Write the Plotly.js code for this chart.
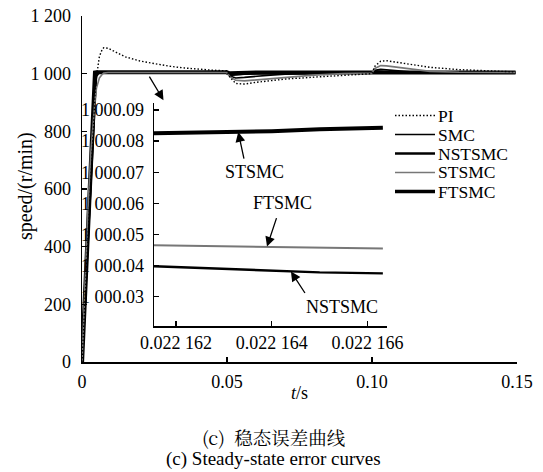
<!DOCTYPE html>
<html><head><meta charset="utf-8">
<script src="https://cdn.plot.ly/plotly-3.0.1.min.js"></script>
<style>html,body{margin:0;padding:0;background:#fff}</style>
</head><body><div id="chart" style="width:543px;height:472px"></div>
<script>
// ---- main plot data ----
const mainT = [0, 0.001, 0.002, 0.003, 0.004, 0.0045, 0.005, 0.006, 0.007, 0.0075, 0.009, 0.012, 0.015, 0.02, 0.025, 0.03, 0.035, 0.04, 0.045, 0.0499, 0.051, 0.053, 0.056, 0.06, 0.065, 0.07, 0.08, 0.09, 0.0999, 0.101, 0.103, 0.105, 0.11, 0.115, 0.12, 0.13, 0.14, 0.1495];
const piSpeed     = [0, 210, 430, 650, 850, 930, 990, 1060, 1085, 1090, 1088, 1072, 1058, 1044, 1034, 1026, 1020, 1015, 1012, 1010, 988, 966, 964, 970, 976, 981, 988, 995, 1000, 1026, 1043, 1045, 1037, 1029, 1022, 1014, 1009, 1006];
const smcSpeed    = [0, 205, 410, 615, 820, 920, 990, 1004, 1004, 1004, 1004, 1004, 1004, 1004, 1004, 1004, 1004, 1004, 1004, 1004, 992, 985, 987, 991, 995, 998, 1001, 1002, 1002, 1012, 1015, 1013, 1008, 1005, 1004, 1004, 1004, 1004];
const nstsmcSpeed = [0, 215, 430, 645, 860, 965, 1003, 1003, 1003, 1003, 1003, 1003, 1003, 1003, 1003, 1003, 1003, 1003, 1003, 1003, 996, 998, 1000, 1001, 1002, 1002, 1003, 1003, 1003, 1008, 1006, 1005, 1004, 1003, 1003, 1003, 1003, 1003];
const stsmcSpeed  = [0, 280, 520, 720, 860, 910, 950, 985, 998, 1002, 1004, 1004, 1004, 1004, 1004, 1004, 1004, 1004, 1004, 1004, 990, 977, 975, 978, 983, 988, 995, 1000, 1002, 1018, 1028, 1027, 1020, 1013, 1008, 1005, 1004, 1004];
const ftsmcSpeed  = [0, 225, 450, 675, 900, 1004, 1005, 1005, 1005, 1005, 1005, 1005, 1005, 1005, 1005, 1005, 1005, 1005, 1005, 1005, 1001, 1002, 1003, 1004, 1004, 1004, 1004, 1004, 1004, 1006, 1005, 1005, 1004, 1004, 1004, 1004, 1004, 1004];

// ---- inset (zoomed) data ----
const insetT      = [0.02216154, 0.022163, 0.022164, 0.022165, 0.02216632];
const insetUpper  = [1000.0825, 1000.0828, 1000.0832, 1000.0838, 1000.0843];
const insetMiddle = [1000.0465, 1000.0462, 1000.0460, 1000.0457, 1000.0455];
const insetLower  = [1000.0398, 1000.0390, 1000.0383, 1000.0378, 1000.0375];

// ---- labels ----
const seriesNames = ['PI', 'SMC', 'NSTSMC', 'STSMC', 'FTSMC'];
const yTickVals = [0, 200, 400, 600, 800, 1000, 1200];
const yTickText = ['0', '200', '400', '600', '800', '1 000', '1 200'];
const xTickVals = [0, 0.05, 0.10, 0.15];
const xTickText = ['0', '0.05', '0.10', '0.15'];
const insetXTickVals = [0.022162, 0.022164, 0.022166];
const insetXTickText = ['0.022 162', '0.022 164', '0.022 166'];
const insetYTickVals = [1000.03, 1000.04, 1000.05, 1000.06, 1000.07, 1000.08, 1000.09];
const insetYTickText = ['1 000.03', '1 000.04', '1 000.05', '1 000.06', '1 000.07', '1 000.08', '1 000.09'];

const FONT = "'Liberation Serif', 'Times New Roman', serif";
const styles = {
  PI:     {color: '#000', width: 1.4, dash: '1.5px,2px'},
  SMC:    {color: '#000', width: 1.6, dash: 'solid'},
  NSTSMC: {color: '#000', width: 2.6, dash: 'solid'},
  STSMC:  {color: '#777', width: 1.6, dash: 'solid'},
  FTSMC:  {color: '#000', width: 4.2, dash: 'solid'}
};
const seriesData = {PI: piSpeed, SMC: smcSpeed, NSTSMC: nstsmcSpeed, STSMC: stsmcSpeed, FTSMC: ftsmcSpeed};
const drawOrder = ['FTSMC', 'NSTSMC', 'SMC', 'STSMC', 'PI'];

const traces = drawOrder.map(n => ({
  x: mainT, y: seriesData[n], type: 'scatter', mode: 'lines', name: n,
  line: {color: styles[n].color, width: styles[n].width, dash: styles[n].dash},
  xaxis: 'x', yaxis: 'y', showlegend: false, hoverinfo: 'skip'
}));
traces.push({x: insetT, y: insetUpper, type: 'scatter', mode: 'lines', xaxis: 'x2', yaxis: 'y2', showlegend: false, line: {color: '#000', width: 4}});
traces.push({x: insetT, y: insetMiddle, type: 'scatter', mode: 'lines', xaxis: 'x2', yaxis: 'y2', showlegend: false, line: {color: '#777', width: 2}});
traces.push({x: insetT, y: insetLower, type: 'scatter', mode: 'lines', xaxis: 'x2', yaxis: 'y2', showlegend: false, line: {color: '#000', width: 2.4}});

// pixel helpers for paper placement (plot area: l=82, t=16, w=435, h=346)
const L = 82, T = 16, W = 435, H = 346;
const px = x => (x - L) / W;
const py = y => (T + H - y) / H;

const shapes = [];
const annotations = [];
// legend drawn as keys + labels
const legRows = [115.5, 134.5, 153.5, 172.5, 191.5];
seriesNames.forEach((n, i) => {
  shapes.push({type: 'line', xref: 'paper', yref: 'paper', x0: px(395), x1: px(435), y0: py(legRows[i]), y1: py(legRows[i]),
    line: {color: styles[n].color, width: Math.min(styles[n].width, 3.5), dash: styles[n].dash}});
  annotations.push({xref: 'paper', yref: 'paper', x: px(435.5), y: py(legRows[i]), xanchor: 'left', yanchor: 'middle',
    text: n, showarrow: false, font: {family: FONT, size: 17.5, color: '#000'}});
});

const txt = (x, y, t, size, extra) => Object.assign({xref: 'paper', yref: 'paper', x: px(x), y: py(y), text: t, showarrow: false,
  xanchor: 'center', yanchor: 'middle', font: {family: FONT, size: size, color: '#000'}}, extra || {});
annotations.push(txt(25, 186, 'speed/(r/min)', 20, {textangle: -90}));
annotations.push(txt(299, 393, '<i>t</i>/s', 18));
annotations.push(txt(274, 437, '(c)  稳态误差曲线', 18.5, {font: {family: "'Noto Serif CJK SC', 'Noto Sans CJK SC', " + FONT, size: 18.5, color: '#000'}}));
annotations.push(txt(273, 459, '(c) Steady-state error curves', 19));
// inset labels
annotations.push(txt(254, 172, 'STSMC', 18));
annotations.push(txt(282, 203, 'FTSMC', 18));
annotations.push(txt(342, 307, 'NSTSMC', 18));
// arrows (tip in inset/main data coordinates, tail offset in pixels)
const arrow = (xr, yr, x, y, ax, ay) => ({xref: xr, yref: yr, x: x, y: y, ax: ax, ay: ay, text: '', showarrow: true,
  arrowhead: 2, arrowsize: 1.5, arrowwidth: 1.3, arrowcolor: '#000'});
annotations.push(arrow('x2', 'y2', 0.0221633, 1000.0829, 6, 28));
annotations.push(arrow('x2', 'y2', 0.0221639, 1000.0461, 10, -30));
annotations.push(arrow('x2', 'y2', 0.0221644, 1000.0381, 15, 23));
annotations.push(arrow('x', 'y', 0.0281, 908, -15, -25));

const axisCommon = {showline: true, linecolor: '#000', linewidth: 1.5, ticks: 'inside', ticklen: 5, tickwidth: 1.3, tickcolor: '#000',
  showgrid: false, zeroline: false, mirror: false, tickfont: {family: FONT, size: 18, color: '#000'}};

const layout = {
  width: 543, height: 472,
  margin: {l: L, r: 543 - L - W, t: T, b: 472 - T - H},
  paper_bgcolor: '#fff', plot_bgcolor: 'rgba(0,0,0,0)',
  showlegend: false,
  font: {family: FONT, color: '#000'},
  xaxis: Object.assign({}, axisCommon, {range: [0, 0.15], tickmode: 'array', tickvals: xTickVals, ticktext: xTickText, ticklabelstandoff: 3, anchor: 'y'}),
  yaxis: Object.assign({}, axisCommon, {range: [0, 1200], tickmode: 'array', tickvals: yTickVals, ticktext: yTickText, ticklabelstandoff: 6, anchor: 'x'}),
  xaxis2: Object.assign({}, axisCommon, {domain: [px(154), px(386.7)], range: [0.02216154, 0.0221664], tickmode: 'array', tickvals: insetXTickVals, ticktext: insetXTickText, anchor: 'y2', ticklabelstandoff: 0}),
  yaxis2: Object.assign({}, axisCommon, {domain: [py(326), py(103)], range: [1000.02058, 1000.09225], tickmode: 'array', tickvals: insetYTickVals, ticktext: insetYTickText, anchor: 'x2', ticklabelstandoff: 5}),
  shapes: shapes,
  annotations: annotations
};

Plotly.newPlot('chart', traces, layout, {displayModeBar: false, staticPlot: true});
</script></body></html>
